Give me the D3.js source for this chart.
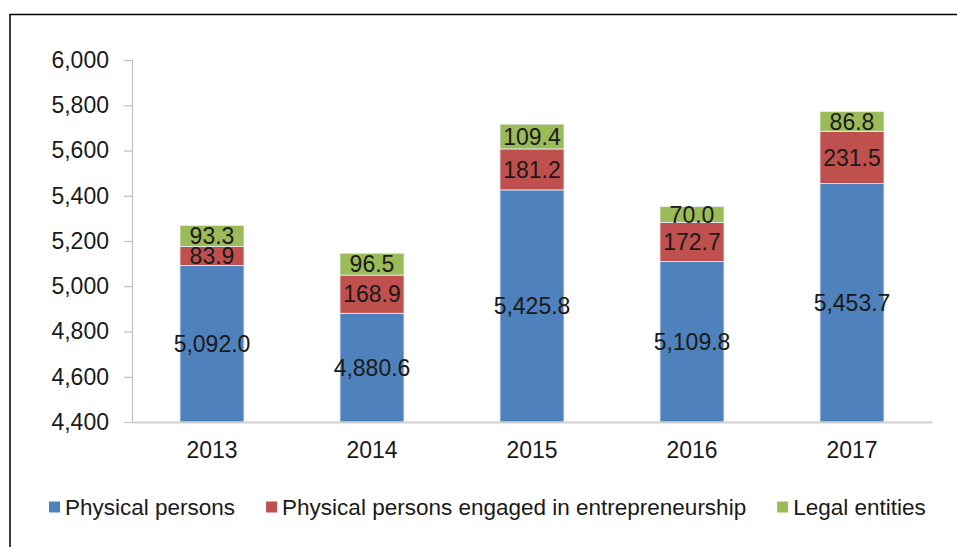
<!DOCTYPE html>
<html>
<head>
<meta charset="utf-8">
<script src="https://cdn.jsdelivr.net/npm/d3@7"></script>
<style>
  body { margin: 0; background: #fff; }
  svg { display: block; font-family: "Liberation Sans", Arial, sans-serif; }
</style>
</head>
<body>
<svg id="chart"></svg>
<script>
// Chart data
const years = ["2013", "2014", "2015", "2016", "2017"];
const physicalPersons = [5092.0, 4880.6, 5425.8, 5109.8, 5453.7];
const entrepreneurs = [83.9, 168.9, 181.2, 172.7, 231.5];
const legalEntities = [93.3, 96.5, 109.4, 70.0, 86.8];
const seriesNames = ["Physical persons", "Physical persons engaged in entrepreneurship", "Legal entities"];
const yTicks = [4400, 4600, 4800, 5000, 5200, 5400, 5600, 5800, 6000];

const width = 957;
const height = 547;
const colors = ["#4f81bd", "#c0504d", "#9bbb59"];

const svg = d3.select("#chart")
    .attr("width", width)
    .attr("height", height)

// outer frame (runs off the right and bottom edge)
svg.append("rect")
    .attr("x", 10)
    .attr("y", 14.5)
    .attr("width", 1000)
    .attr("height", 600)
    .attr("fill", "none")
    .attr("stroke", "#000")
    .attr("stroke-width", 1.5)

const xScale = d3.scaleBand()
    .domain(years)
    .range([132, 932])
    .paddingInner(0.6)
    .paddingOuter(0.3)

const yScale = d3.scaleLinear()
    .domain([4400, 6000])
    .range([422, 60])

// build stacked rows
const rows = years.map((y, i) => ({
    year: y,
    s0: physicalPersons[i],
    s1: entrepreneurs[i],
    s2: legalEntities[i]
}));
const stack = d3.stack().keys(["s0", "s1", "s2"])(rows);

// y axis
const yAxis = svg.append("g")
    .attr("transform", "translate(132, 0)")
    .call(d3.axisLeft(yScale).tickValues(yTicks).tickSize(8).tickPadding(15).tickFormat(d3.format(",")))
yAxis.select(".domain").attr("stroke", "#bfbfbf").attr("stroke-width", 1.2)
yAxis.selectAll(".tick line").attr("stroke", "#bfbfbf").attr("stroke-width", 1.2)
yAxis.selectAll(".tick text")
    .attr("font-size", 23)
    .attr("fill", "#1a1a1a")
    .attr("font-family", "Liberation Sans, Arial, sans-serif")

// bars
const layers = svg.append("g")
    .selectAll("g")
    .data(stack)
    .join("g")
    .attr("fill", (d, i) => colors[i])

layers.selectAll("rect")
    .data(d => d)
    .join("rect")
    .attr("x", d => xScale(d.data.year))
    .attr("width", xScale.bandwidth())
    .attr("y", d => yScale(d[1]))
    .attr("height", d => yScale(d[0] < 4400 ? 4400 : d[0]) - yScale(d[1]))
    .attr("stroke", "#e8eef6")
    .attr("stroke-width", 0.8)

// x axis
const xAxis = svg.append("g")
    .attr("transform", "translate(0, 422)")
    .call(d3.axisBottom(xScale).tickSize(0).tickPadding(20))
xAxis.select(".domain").attr("stroke", "#d0d0d0").attr("stroke-width", 2)
xAxis.selectAll(".tick text")
    .attr("font-size", 23)
    .attr("fill", "#1a1a1a")
    .attr("font-family", "Liberation Sans, Arial, sans-serif")

// data labels, centred in each segment
const fmtBig = d3.format(",.1f");
const fmtSmall = d3.format(".1f");
layers.selectAll("text")
    .data(d => d)
    .join("text")
    .attr("x", d => xScale(d.data.year) + xScale.bandwidth() / 2)
    .attr("y", d => (yScale(Math.max(d[0], 4400)) + yScale(d[1])) / 2)
    .attr("dy", "0.36em")
    .attr("text-anchor", "middle")
    .attr("font-size", 23)
    .attr("fill", "#1a1a1a")
    .text(d => {
        const v = d[1] - d[0];
        return v > 1000 ? fmtBig(v) : fmtSmall(v);
    })

// legend
const legend = svg.append("g").attr("transform", "translate(49, 507)")
let lx = 0;
seriesNames.forEach((name, i) => {
    legend.append("rect")
        .attr("x", lx)
        .attr("y", -5.5)
        .attr("width", 11)
        .attr("height", 11)
        .attr("fill", colors[i])
    const t = legend.append("text")
        .attr("x", lx + 16)
        .attr("y", 0)
        .attr("dy", "0.36em")
        .attr("font-size", 22.5)
        .attr("fill", "#1a1a1a")
        .text(name)
    lx += 16 + t.node().getComputedTextLength() + 31;
});
</script>
</body>
</html>
